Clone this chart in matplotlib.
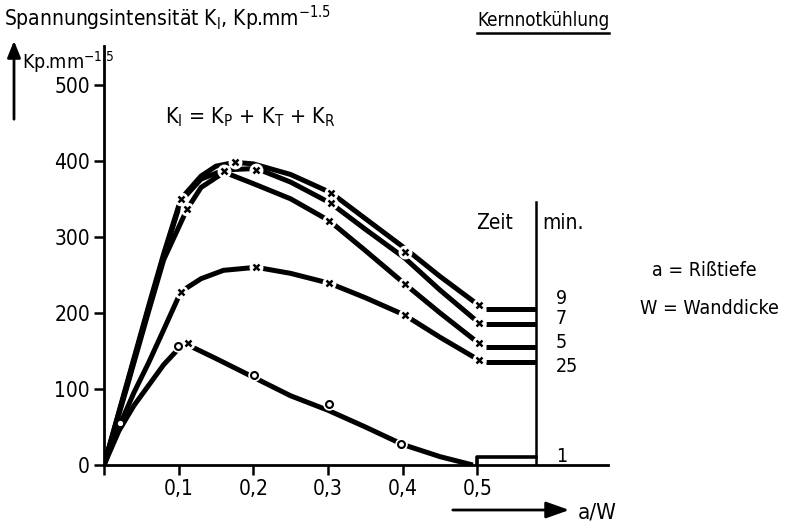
import matplotlib
matplotlib.use("Agg")
import matplotlib.pyplot as plt
from matplotlib.patches import FancyArrowPatch

plt.rcParams['font.family'] = ['DejaVu Sans']
plt.rcParams['font.stretch'] = 'condensed'
plt.rcParams['mathtext.default'] = 'regular'

# curves K_I over a/W (time in min)
x_9 = [0, 0.03, 0.06, 0.08, 0.103, 0.13, 0.15, 0.175, 0.2, 0.25, 0.304, 0.35, 0.403, 0.45, 0.502]
y_9 = [0, 105, 210, 278, 350, 380, 393, 398, 396, 382, 358, 324, 285, 248, 210]
x_7 = [0, 0.03, 0.06, 0.08, 0.103, 0.13, 0.161, 0.204, 0.25, 0.304, 0.35, 0.403, 0.45, 0.502]
y_7 = [0, 103, 207, 275, 347, 376, 388, 390, 372, 344, 310, 272, 230, 187]
x_5 = [0, 0.03, 0.06, 0.08, 0.111, 0.13, 0.161, 0.2, 0.25, 0.302, 0.35, 0.403, 0.45, 0.502]
y_5 = [0, 100, 203, 270, 336, 365, 385, 370, 350, 321, 282, 238, 200, 160]
x_25 = [0, 0.02, 0.04, 0.06, 0.08, 0.103, 0.13, 0.16, 0.204, 0.25, 0.302, 0.35, 0.403, 0.45, 0.502]
y_25 = [0, 50, 95, 135, 178, 228, 245, 256, 260, 252, 239, 220, 197, 168, 138]
x_1 = [0, 0.02, 0.04, 0.06, 0.08, 0.099, 0.112, 0.15, 0.201, 0.25, 0.3, 0.35, 0.4, 0.45, 0.494]
y_1 = [0, 45, 78, 105, 132, 152, 158, 140, 115, 91, 72, 50, 27, 11, 0]

# measured points (crosses and circles)
cross_x = [0.103, 0.175, 0.304, 0.403, 0.502, 0.204, 0.304, 0.502, 0.111, 0.161, 0.302,
           0.403, 0.502, 0.103, 0.204, 0.302, 0.403, 0.502, 0.112]
cross_y = [350, 398, 358, 280, 210, 388, 344, 187, 336, 387, 321,
           238, 160, 228, 260, 239, 197, 138, 161]
circ_x = [0.099, 0.201, 0.301, 0.398]
circ_y = [156, 118, 80, 28]

# end levels at the "Zeit" scale
times = ['9', '7', '5', '25', '1']
levels = [205, 185, 155, 135, 11]
zeit_x = 0.578

W, H = 796, 531


def fp(x, y):
    # picture pixels (from top left) to figure fraction
    return x / W, 1 - y / H


fig = plt.figure(figsize=(W / 100, H / 100), dpi=100)
ax = fig.add_axes([104 / W, 66 / H, 504 / W, 419 / H])
ax.set_xlim(0, 0.675)
ax.set_ylim(0, 551)

lw = 3.6
for xs, ys in [(x_9, y_9), (x_7, y_7), (x_5, y_5), (x_25, y_25), (x_1, y_1)]:
    ax.plot(xs, ys, color='black', lw=lw, solid_capstyle='butt', solid_joinstyle='round', zorder=2)

# gaps around the markers
ax.plot(cross_x, cross_y, ls='none', marker='o', ms=9, mfc='white', mec='white', zorder=3)
ax.plot(circ_x, circ_y, ls='none', marker='o', ms=8, mfc='white', mec='white', zorder=3)
ax.plot(cross_x, cross_y, ls='none', marker='x', ms=5, mew=1.8, color='black', zorder=4)
ax.plot(circ_x, circ_y, ls='none', marker='o', ms=5, mew=1.5, mfc='white', mec='black', zorder=4)
ax.plot([0.021], [55], ls='none', marker='o', ms=3, mew=0.8, mfc='white', mec='white', zorder=4)

for lev in levels[:4]:
    ax.plot([0.511, zeit_x], [lev, lev], color='black', lw=lw, solid_capstyle='butt')
ax.plot([0.5, 0.5, zeit_x], [0, levels[4], levels[4]], color='black', lw=2.6)
ax.plot([zeit_x, zeit_x], [0, 346], color='black', lw=1.8)

for s in ['top', 'right']:
    ax.spines[s].set_visible(False)
for s in ['left', 'bottom']:
    ax.spines[s].set_linewidth(2)

ax.set_yticks([0, 100, 200, 300, 400, 500])
ax.set_yticklabels(['0', '100', '200', '300', '400', '500'])
ax.set_xticks([0, 0.1, 0.2, 0.3, 0.4, 0.5])
ax.set_xticklabels(['', '0,1', '0,2', '0,3', '0,4', '0,5'])
ax.tick_params(axis='both', direction='out', length=7, width=1.8, labelsize=15, pad=3)

# texts
fig.text(*fp(4, 18), 'Spannungsintensität K$_I$, Kp.mm$^{-1.5}$',
         fontsize=15, va='center', ha='left')
fig.text(*fp(22, 62), 'Kp.mm$^{-1.5}$', fontsize=14, va='center', ha='left')
fig.text(*fp(165, 117), 'K$_I$ = K$_P$ + K$_T$ + K$_R$',
         fontsize=15.5, va='center', ha='left')
kern = fig.text(*fp(477, 20), 'Kernnotkühlung', fontsize=13.5, va='center', ha='left')
fig.text(*fp(476, 223), 'Zeit', fontsize=15, va='center', ha='left')
fig.text(*fp(542, 223), 'min.', fontsize=15, va='center', ha='left')
for t, yy in zip(times, [299, 319, 343, 366, 456]):
    fig.text(*fp(556, yy), t, fontsize=14, va='center', ha='left')
fig.text(*fp(652, 270), 'a = Rißtiefe', fontsize=14, va='center', ha='left')
fig.text(*fp(640, 308), 'W = Wanddicke', fontsize=14, va='center', ha='left')
fig.text(*fp(578, 512), 'a/W', fontsize=16, va='center', ha='left')

# underline of the title on the right
bb = kern.get_window_extent(renderer=fig.canvas.get_renderer())
fig.add_artist(plt.Line2D([bb.x0 / W, bb.x1 / W], [1 - 33 / H, 1 - 33 / H], color='black', lw=1.8))

# arrows
fig.add_artist(FancyArrowPatch(fp(14, 122), fp(14, 38), transform=fig.transFigure,
                               arrowstyle='-|>,head_length=10,head_width=4', color='black', lw=2))
fig.add_artist(FancyArrowPatch(fp(450, 510), fp(572, 510), transform=fig.transFigure,
                               arrowstyle='-|>,head_length=14,head_width=5', color='black', lw=2))

fig.savefig('out.png', dpi=100)
